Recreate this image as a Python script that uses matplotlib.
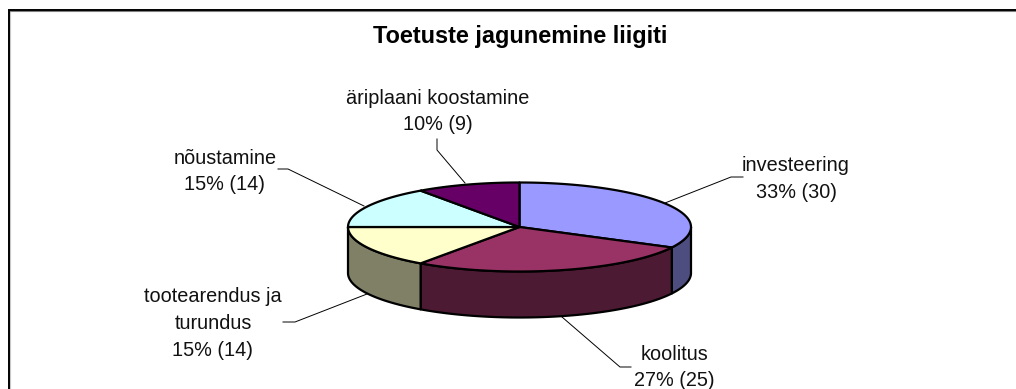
#!/usr/bin/env python3
import numpy as np
import matplotlib
matplotlib.use("Agg")
import matplotlib.pyplot as plt
from matplotlib.patches import Polygon

TITLE = "Toetuste jagunemine liigiti"
CATEGORIES = ["investeering", "koolitus", "tootearendus ja\nturundus", "nõustamine", "äriplaani koostamine"]
VALUES = [30, 25, 14, 14, 9]
PERCENTS = [33, 27, 15, 15, 10]
TOP_COLORS = ["#9999FF", "#993366", "#FFFFCC", "#CCFFFF", "#660066"]
SIDE_COLORS = ["#4D4D80", "#4D1A33", "#808066", "#668080", "#330033"]

# pie geometry in pixels
CX, CY = 519.5, 227.0
RX, RY = 171.5, 44.5
DEPTH = 46

LABEL_POS = [(796, 178.7), (674, 367.5), (213, 323.5), (225, 171.5), (437.7, 111.5)]
LEADERS = [
    [(743, 177), (731, 177), (665, 203)],
    [(631, 367), (620, 367), (562, 317)],
    [(283, 322), (295, 322), (367, 294)],
    [(278, 169), (288, 169), (364, 206)],
    [(437, 139), (437, 150), (465, 183)],
]


def rim(a0, a1, n=80):
    """Punkti ellipsil, nurk kraadides kellaosuti suunas alates kella 12-st."""
    t = np.radians(np.linspace(a0, a1, n))
    return np.column_stack([CX + RX * np.sin(t), CY - RY * np.cos(t)])


plt.rcParams["font.family"] = ["Liberation Sans", "DejaVu Sans"]
fig = plt.figure(figsize=(10.16, 3.89), dpi=100, facecolor="white")
ax = fig.add_axes([0, 0, 1, 1])
ax.set_xlim(0, 1016)
ax.set_ylim(389, 0)
ax.axis("off")

# chart frame, only top and left are inside the crop
ax.plot([10, 10], [11, 389], color="#C8C8C8", lw=0.8, zorder=1)
ax.plot([10, 1016], [10.8, 10.8], color="#808080", lw=0.8, zorder=1)
ax.plot([8.5, 8.5, 1016], [389, 9.5, 9.5], color="black", lw=1.4, zorder=2, solid_joinstyle="miter")

edges = np.cumsum([0] + VALUES) / sum(VALUES) * 360

# front walls first
for i in range(len(VALUES)):
    a0, a1 = max(edges[i], 90), min(edges[i + 1], 270)
    if a0 >= a1:
        continue
    top = rim(a0, a1)
    bottom = top[::-1] + [0, DEPTH]
    ax.add_patch(Polygon(np.vstack([top, bottom]), closed=True, facecolor=SIDE_COLORS[i],
                         edgecolor="black", lw=1.6, joinstyle="round", zorder=3))

# top face
for i in range(len(VALUES)):
    pts = np.vstack([[CX, CY], rim(edges[i], edges[i + 1])])
    ax.add_patch(Polygon(pts, closed=True, facecolor=TOP_COLORS[i],
                         edgecolor="black", lw=1.6, joinstyle="round", zorder=4))

for pts in LEADERS:
    xs, ys = zip(*pts)
    ax.plot(xs, ys, color="black", lw=0.7, zorder=2)

for name, pct, val, (x, y) in zip(CATEGORIES, PERCENTS, VALUES, LABEL_POS):
    ax.text(x, y, f"{name}\n{pct}% ({val})", ha="center", va="center",
            fontsize=14.3, color="#111111", linespacing=1.52, zorder=5)

ax.text(520.5, 36, TITLE, ha="center", va="center", fontsize=16.9,
        fontweight="bold", color="black", zorder=5)

fig.savefig("out.png", dpi=100, facecolor="white")
